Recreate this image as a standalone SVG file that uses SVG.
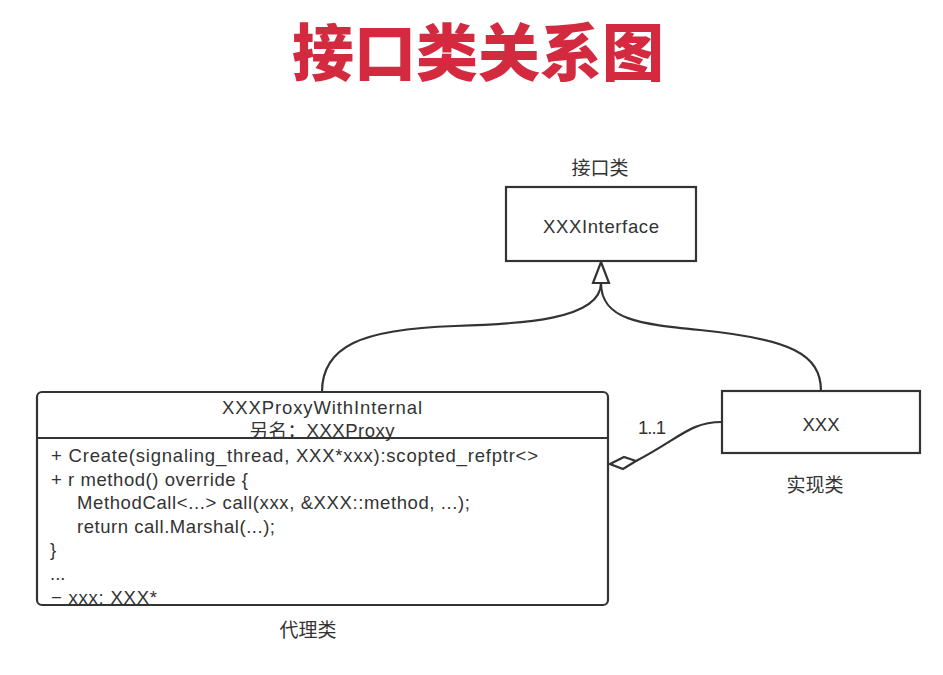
<svg xmlns="http://www.w3.org/2000/svg" width="943" height="675" viewBox="0 0 943 675">
<style>
.t{font-family:"Liberation Sans","Noto Sans CJK SC",sans-serif;fill:#333;font-size:18.5px}
.k{font-family:"Noto Sans CJK SC",sans-serif;fill:#333;font-size:19px}
.c{text-anchor:middle}
.box{fill:#fff;stroke:#333;stroke-width:2.2}
.ln{fill:none;stroke:#333;stroke-width:2.2}
</style>
<rect width="943" height="675" fill="#fff"/>
<text x="478" y="76" text-anchor="middle" style="font-family:'Noto Sans CJK SC',sans-serif;font-weight:900;font-size:62px;fill:#d42a40">接口类关系图</text>
<g id="connectors">
<path class="ln" d="M601,283 C601,320 520,324 455,326 C360,329 322,347 322,392"/>
<path class="ln" d="M601,283 C601,320 640,324 700,330 C790,339 821,354 821,391"/>
<polygon class="box" points="601,262 609,283 593,283"/>
<path class="ln" d="M636,461 C680,438 690,422 722,422"/>
<polygon class="box" points="610,464 624,457 636,461 623,469"/>
<text class="t" x="638" y="434" textLength="28" lengthAdjust="spacing">1..1</text>
</g>
<g id="interface">
<text class="k c" x="600" y="175">接口类</text>
<rect class="box" x="506" y="187" width="190" height="74"/>
<text class="t c" x="601" y="233" textLength="116" lengthAdjust="spacing">XXXInterface</text>
</g>
<g id="impl">
<rect class="box" x="722" y="391" width="198" height="62"/>
<text class="t c" x="821" y="431" textLength="37" lengthAdjust="spacing">XXX</text>
<text class="k c" x="815" y="492">实现类</text>
</g>
<g id="proxy">
<rect class="box" x="37" y="392" width="571" height="213" rx="5"/>
<line class="ln" x1="37" y1="438" x2="608" y2="438"/>
<text class="t c" x="322" y="414" textLength="200" lengthAdjust="spacing">XXXProxyWithInternal</text>
<text class="t c" x="322" y="437" textLength="145" lengthAdjust="spacing">另名：XXXProxy</text>
<text class="t" x="51" y="462" textLength="487" lengthAdjust="spacing">+ Create(signaling_thread, XXX*xxx):scopted_refptr&lt;&gt;</text>
<text class="t" x="51" y="486" textLength="197" lengthAdjust="spacing">+ r method() override {</text>
<text class="t" x="77" y="509" textLength="393" lengthAdjust="spacing">MethodCall&lt;...&gt; call(xxx, &amp;XXX::method, ...);</text>
<text class="t" x="77" y="533" textLength="198" lengthAdjust="spacing">return call.Marshal(...);</text>
<text class="t" x="50" y="556">}</text>
<text class="t" x="50" y="580">...</text>
<text class="t" x="51" y="604" textLength="106" lengthAdjust="spacing">− xxx: XXX*</text>
<text class="k c" x="308" y="637">代理类</text>
</g>
</svg>
